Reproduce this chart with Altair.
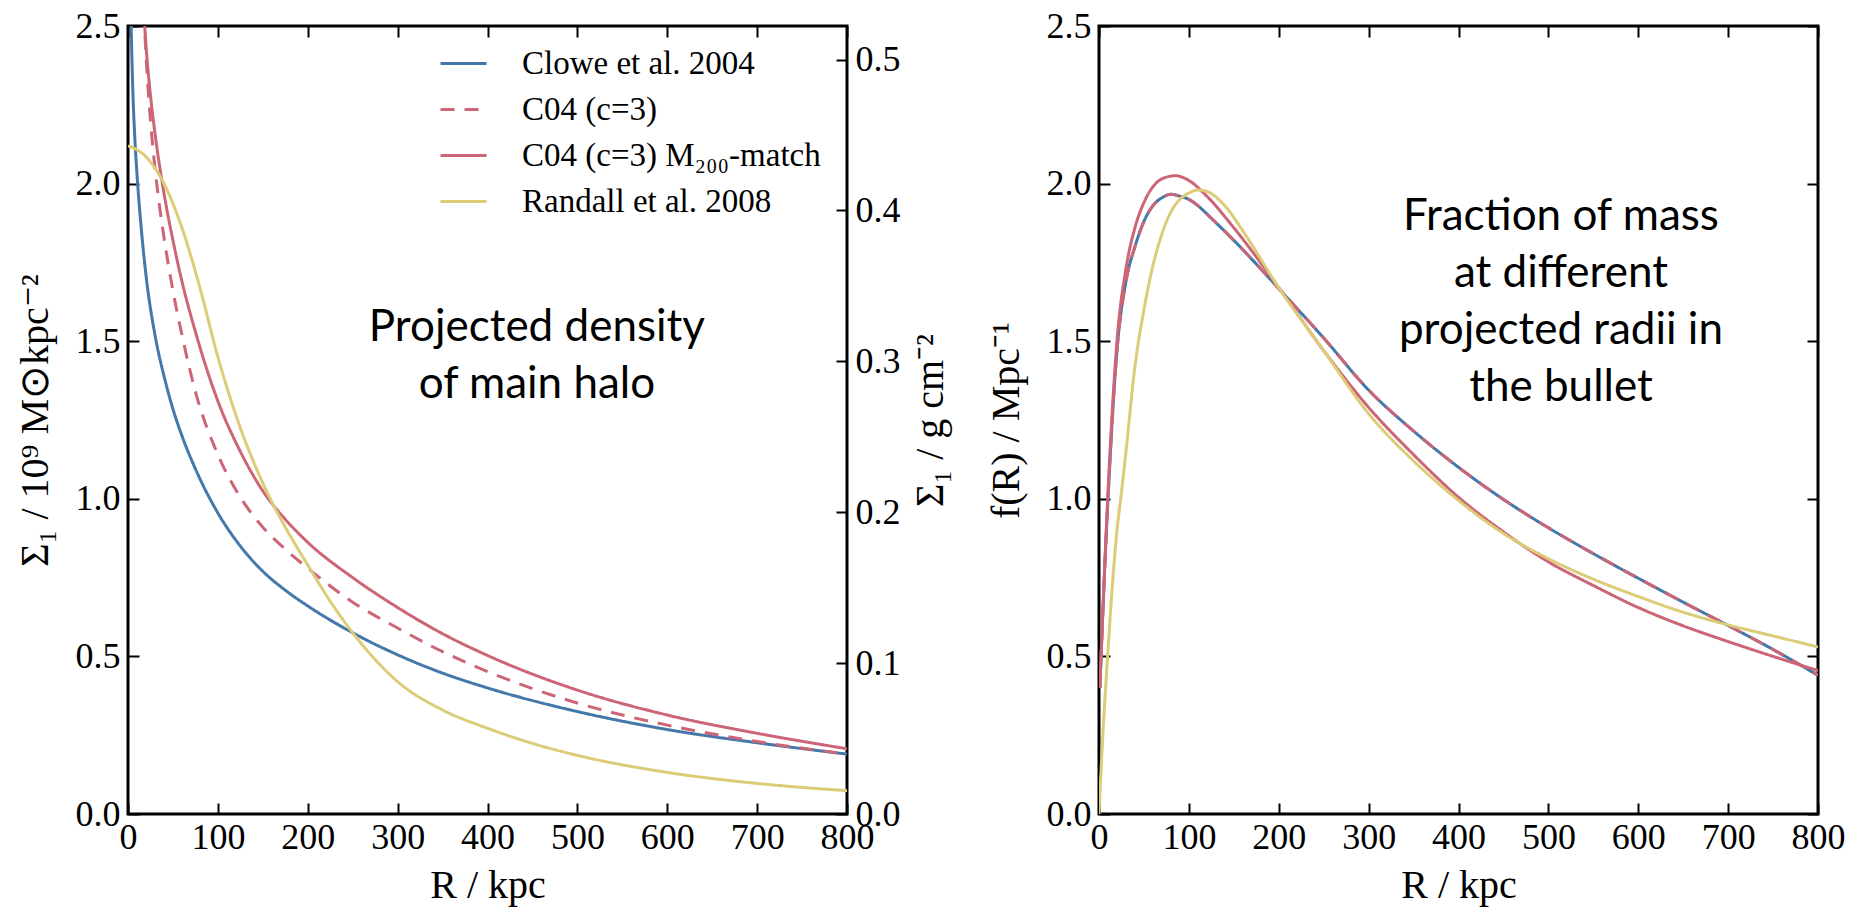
import altair as alt
import pandas as pd

SERIF = "Liberation Serif"
SANS = "Lato"

SERIES = ["Clowe et al. 2004", "C04 (c=3)", "C04 (c=3) M₂₀₀-match", "Randall et al. 2008"]
COLORS = ["#4477AA", "#CC6677", "#CC6677", "#DDCC77"]
DASHES = [[1, 0], [14, 10], [1, 0], [1, 0]]

X_TICKS = [0, 100, 200, 300, 400, 500, 600, 700, 800]
Y_TICKS = [0.0, 0.5, 1.0, 1.5, 2.0, 2.5]
G_TICKS = [0.0, 0.1, 0.2, 0.3, 0.4, 0.5]
MSUN_KPC2_TO_G_CM2 = 0.2089  # 1e9 Msun/kpc^2 in g/cm^2

# ---- Left panel: projected density (1e9 Msun / kpc^2)
clowe_R = [2, 3, 5, 7.5, 10, 15, 20, 30, 40, 50, 60, 75, 100, 125, 150, 175, 200, 250, 300,
           350, 400, 500, 600, 700, 800]
clowe_S = [2.85, 2.6, 2.33, 2.15, 2.03, 1.85, 1.71, 1.52, 1.39, 1.285, 1.20, 1.095, 0.955,
           0.85, 0.77, 0.71, 0.66, 0.575, 0.505, 0.447, 0.40, 0.325, 0.268, 0.226, 0.19]

c04_R = [14, 16, 18, 20, 25, 30, 35, 40, 50, 60, 75, 100, 125, 150, 175, 200, 250, 300, 350,
         400, 500, 600, 700, 800]
c04_S = [2.85, 2.66, 2.52, 2.41, 2.2, 2.05, 1.93, 1.83, 1.66, 1.52, 1.34, 1.14, 1.005, 0.91,
         0.84, 0.78, 0.672, 0.59, 0.515, 0.452, 0.352, 0.282, 0.23, 0.19]

c04m_R = [14, 16, 18, 20, 25, 30, 40, 50, 60, 75, 100, 125, 150, 175, 200, 250, 300, 350, 400,
          500, 600, 700, 800]
c04m_S = [2.80, 2.65, 2.53, 2.44, 2.28, 2.16, 1.97, 1.82, 1.69, 1.53, 1.31, 1.15, 1.025, 0.935,
          0.862, 0.75, 0.655, 0.572, 0.503, 0.393, 0.314, 0.256, 0.207]

randall_R = [0, 20, 40, 60, 80, 100, 125, 150, 175, 200, 225, 250, 275, 300, 350, 400, 450,
             500, 600, 700, 800]
randall_S = [2.12, 2.085, 2.0, 1.86, 1.67, 1.45, 1.225, 1.05, 0.91, 0.79, 0.675, 0.575, 0.49,
             0.42, 0.33, 0.272, 0.224, 0.186, 0.132, 0.097, 0.074]

# ---- Right panel: fraction of mass f(R) (1/Mpc)
f_clowe_R = [1, 3, 10, 20, 30, 40, 50, 60, 70, 80, 90, 100, 110, 125, 150, 200, 250, 300, 350,
             400, 450, 500, 550, 600, 650, 700, 750, 800]
f_clowe_F = [0.4, 0.55, 1.0, 1.47, 1.69, 1.80, 1.88, 1.93, 1.955, 1.966, 1.96, 1.95, 1.93, 1.89,
             1.82, 1.667, 1.51, 1.345, 1.215, 1.10, 0.998, 0.908, 0.826, 0.748, 0.672, 0.598,
             0.522, 0.44]

f_c04_R = f_clowe_R
f_c04_F = f_clowe_F

f_c04m_R = [1, 3, 10, 20, 30, 40, 50, 60, 70, 85, 100, 120, 150, 200, 250, 300, 350, 400, 450,
            500, 550, 600, 650, 700, 750, 800]
f_c04m_F = [0.4, 0.55, 1.02, 1.5, 1.73, 1.86, 1.94, 1.99, 2.015, 2.025, 2.01, 1.96, 1.86, 1.67,
            1.47, 1.29, 1.14, 1.005, 0.895, 0.80, 0.725, 0.655, 0.597, 0.547, 0.50, 0.455]

f_randall_R = [0, 3, 10, 20, 25, 30, 40, 50, 60, 70, 80, 90, 100, 110, 120, 140, 160, 200, 250,
               300, 350, 400, 450, 500, 550, 600, 650, 700, 750, 800]
f_randall_F = [0.0, 0.18, 0.52, 0.9, 1.02, 1.15, 1.42, 1.6, 1.74, 1.84, 1.91, 1.95, 1.97, 1.98,
               1.975, 1.93, 1.85, 1.67, 1.47, 1.27, 1.12, 0.995, 0.89, 0.81, 0.745, 0.69, 0.64,
               0.60, 0.565, 0.53]

LEFT_NOTE = ["Projected density\nof main halo"]
LEFT_NOTE_X = [455]
LEFT_NOTE_Y = [1.542]
RIGHT_NOTE = ["Fraction of mass\nat different\nprojected radii in\nthe bullet"]
RIGHT_NOTE_X = [514]
RIGHT_NOTE_Y = [1.894]


def long_df(pairs):
    rows = []
    for name, rs, vs in pairs:
        for r, v in zip(rs, vs):
            rows.append({"series": name, "R": r, "v": v})
    return pd.DataFrame(rows)


left_df = long_df([
    (SERIES[0], clowe_R, clowe_S),
    (SERIES[1], c04_R, c04_S),
    (SERIES[2], c04m_R, c04m_S),
    (SERIES[3], randall_R, randall_S),
])
right_df = long_df([
    (SERIES[0], f_clowe_R, f_clowe_F),
    (SERIES[1], f_c04_R, f_c04_F),
    (SERIES[2], f_c04m_R, f_c04m_F),
    (SERIES[3], f_randall_R, f_randall_F),
])
gcm_df = pd.DataFrame({"R": clowe_R, "g": [s * MSUN_KPC2_TO_G_CM2 for s in clowe_S]})

W, H = 719, 788
TS = 11
LBL = 36
TTL = 40

xscale = alt.Scale(domain=[0, 800], nice=False, zero=False)
yscale = alt.Scale(domain=[0, 2.5], nice=False, zero=False)
gscale = alt.Scale(domain=[0, 2.5 * MSUN_KPC2_TO_G_CM2], nice=False, zero=False)
color_scale = alt.Scale(domain=SERIES, range=COLORS)
dash_scale = alt.Scale(domain=SERIES, range=DASHES)

common_axis = dict(grid=False, domain=False, tickColor="black", tickWidth=2, tickSize=TS,
                   offset=-TS, labelFont=SERIF, labelFontSize=LBL, labelColor="black",
                   titleFont=SERIF, titleFontSize=TTL, titleFontWeight="normal",
                   titleColor="black")


def bottom_axis():
    return alt.Axis(orient="bottom", values=X_TICKS, format="d", labelPadding=6,
                    title="R / kpc", titlePadding=10, labelFlush=False, **common_axis)


def top_axis():
    return alt.Axis(orient="top", values=X_TICKS, labels=False, title=None, **common_axis)


def left_axis(title):
    return alt.Axis(orient="left", values=Y_TICKS, format=".1f", labelPadding=8,
                    title=title, titlePadding=20, labelFlush=False, **common_axis)


legend = alt.Legend(orient="none", legendX=311, legendY=13, title=None, symbolType="stroke",
                    symbolSize=2116, symbolStrokeWidth=3, labelFont=SERIF, labelFontSize=33,
                    labelColor="black", labelOffset=34, rowPadding=4, padding=0,
                    labelLimit=600)


def lines(df, title, show_legend):
    leg = legend if show_legend else None
    enc = dict(
        x=alt.X("R:Q", scale=xscale, axis=bottom_axis()),
        y=alt.Y("v:Q", scale=yscale, axis=left_axis(title)),
        color=alt.Color("series:N", scale=color_scale, legend=leg, sort=SERIES),
        strokeDash=alt.StrokeDash("series:N", scale=dash_scale, legend=leg, sort=SERIES),
    )
    return alt.Chart(df).mark_line(strokeWidth=3, clip=True, interpolate="monotone").encode(**enc)


def note(texts, xs, ys):
    df = pd.DataFrame({"t": texts, "R": xs, "v": ys})
    return alt.Chart(df).mark_text(font=SANS, fontSize=44, color="black", lineBreak="\n",
                                   lineHeight=57, align="center", baseline="middle").encode(
        x=alt.X("R:Q", scale=xscale),
        y=alt.Y("v:Q", scale=yscale),
        text="t:N",
    )


left_main = alt.layer(
    lines(left_df, "Σ₁ / 10⁹ M⊙kpc⁻²", True),
    note(LEFT_NOTE, LEFT_NOTE_X, LEFT_NOTE_Y),
)
left_aux = alt.Chart(gcm_df).mark_line(opacity=0, clip=True).encode(
    x=alt.X("R:Q", scale=xscale, axis=top_axis()),
    y=alt.Y("g:Q", scale=gscale,
            axis=alt.Axis(orient="right", values=G_TICKS, format=".1f", labelPadding=8,
                          title="Σ₁ / g cm⁻²", titleAngle=270, titleBaseline="top",
                          titlePadding=10, labelFlush=False, **common_axis)),
)
left = alt.layer(left_main, left_aux).resolve_scale(y="independent").resolve_axis(
    x="independent", y="independent").properties(width=W, height=H)

right_main = alt.layer(
    lines(right_df, "f(R) / Mpc⁻¹", False),
    note(RIGHT_NOTE, RIGHT_NOTE_X, RIGHT_NOTE_Y),
)
right_aux = alt.Chart(right_df).mark_line(opacity=0, clip=True).encode(
    x=alt.X("R:Q", scale=xscale, axis=top_axis()),
    y=alt.Y("v:Q", scale=yscale,
            axis=alt.Axis(orient="right", values=Y_TICKS, labels=False, title=None,
                          **common_axis)),
)
right = alt.layer(right_main, right_aux).resolve_axis(
    x="independent", y="independent").properties(width=W, height=H)

chart = alt.hconcat(left, right, spacing=252, bounds="flush").resolve_scale(
    color="independent", strokeDash="independent").resolve_legend(
    color="independent", strokeDash="independent").properties(
    padding={"left": 13, "top": 6, "right": 0, "bottom": 0},
    background="white",
).configure_view(stroke="black", strokeWidth=3)

chart.save("out.html", embed_options={"renderer": "svg", "actions": False})
